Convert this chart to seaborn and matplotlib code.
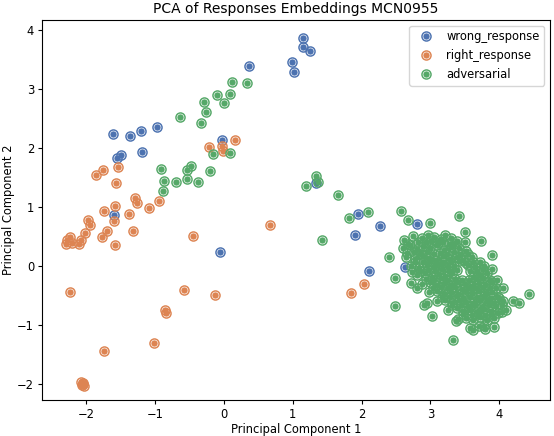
import numpy as np
import pandas as pd
import matplotlib
matplotlib.use("Agg")
import matplotlib.pyplot as plt
import seaborn as sns
from matplotlib.lines import Line2D
from matplotlib.path import Path

# PCA coordinates
wrong_x = [1.15, 1.15, 1.25, 0.99, 1.02, 0.36, -0.03, -1.61, -1.37, -1.21, -0.97,
           -1.55, -1.5, -1.19, -1.6, -0.06, 1.34, 1.95, 1.9, 2.27, 2.11, 2.8, 2.63]
wrong_y = [3.86, 3.71, 3.64, 3.46, 3.29, 3.39, 2.14, 2.24, 2.2, 2.29, 2.36,
           1.83, 1.88, 1.93, 0.86, 0.24, 1.41, 0.88, 0.53, 0.68, -0.08, 0.71, -0.02]

right_x = [-2.05, -2.04, -2.06, -2.03, -2.07, -1.74, -1.02, -0.86, -0.84, -0.58,
           -0.13, -2.24, -0.45, 0.67, 1.85, 2.03, -2.3, -2.28, -2.24, -2.21, -2.08,
           -2.11, -2.02, -1.95, -1.77, -1.69, -1.6, -1.58, -1.32, -1.74, -1.58,
           -1.38, -1.98, -1.85, -1.76, -1.54, -1.57, -1.29, -1.26, -1.09, -0.94,
           -0.22, -0.03, -0.01, 0.16]
right_y = [-1.98, -2.0, -2.02, -2.03, -1.97, -1.45, -1.3, -0.75, -0.79, -0.41,
           -0.49, -0.44, 0.51, 0.69, -0.46, -0.3, 0.37, 0.44, 0.49, 0.39, 0.44,
           0.37, 0.56, 0.69, 0.49, 0.6, 0.76, 0.36, 0.59, 0.93, 1.02,
           0.88, 0.78, 1.54, 1.63, 1.68, 1.41, 1.15, 1.07, 0.98, 1.1,
           2.02, 2.03, 1.95, 2.14]

adv_x = [0.12, 0.33, -0.1, 0.09, -0.29, 0.0, -0.26, -0.64, -0.33, 0.09, -0.16,
         -0.2, -0.47, -0.54, -0.92, -0.87, -0.7, -0.54, -0.38, -0.89,
         1.34, 1.37, 1.19, 1.66, 1.82, 2.09, 1.42, 2.4, 2.57, 2.67, 2.99, 3.42,
         3.5, 3.5, 2.49, 2.91, 2.73, 2.49, 2.72, 2.8, 4.2, 4.29, 4.43, 3.33,
         3.02, 2.95, 3.9, 3.9, 3.97, 4.06, 4.0, 4.04, 3.78, 3.62, 3.37, 3.74,
         2.62, 2.75, 2.88, 2.97, 3.05, 3.15, 3.22, 3.3, 3.38,
         2.6, 2.7, 2.8, 2.9, 3.0, 3.1, 3.2, 3.3, 3.42, 3.52,
         2.65, 2.78, 2.88, 2.98, 3.08, 3.18, 3.28, 3.38, 3.48, 3.6,
         2.72, 2.84, 2.95, 3.05, 3.15, 3.25, 3.35, 3.55, 3.65, 3.78,
         2.8, 2.92, 3.02, 3.12, 3.22, 3.32, 3.62, 3.72, 3.82,
         2.88, 3.0, 3.1, 3.2, 3.3, 3.4, 3.5, 3.6, 3.7, 3.8, 3.9,
         2.98, 3.1, 3.2, 3.3, 3.4, 3.5, 3.6, 3.7, 3.8, 3.9,
         3.1, 3.22, 3.32, 3.42, 3.52, 3.62, 3.72, 3.82, 3.92, 4.05,
         3.25, 3.38, 3.48, 3.58, 3.68, 3.78, 3.88, 3.98, 4.1,
         3.4, 3.52, 3.62, 3.72, 3.82, 3.92,
         3.58, 3.7, 3.8, 3.92,
         # second, offset pass through the dense cluster
         2.68, 2.82, 2.93, 3.01, 3.11, 3.19, 3.27, 3.35,
         2.66, 2.76, 2.86, 2.95, 3.05, 3.14, 3.24, 3.34, 3.45, 3.55,
         2.77, 2.9, 3.0, 3.1, 3.2, 3.3, 3.41, 3.52, 3.62, 3.72,
         2.85, 2.97, 3.07, 3.17, 3.27, 3.38, 3.58, 3.68, 3.76,
         2.94, 3.05, 3.15, 3.25, 3.36, 3.46, 3.56, 3.66, 3.76, 3.86,
         3.04, 3.15, 3.26, 3.36, 3.46, 3.56, 3.66, 3.76, 3.86, 3.96,
         3.17, 3.28, 3.38, 3.48, 3.58, 3.68, 3.78, 3.88, 3.99,
         3.32, 3.44, 3.55, 3.65, 3.75, 3.85, 3.95, 4.04,
         3.48, 3.6, 3.7, 3.8, 3.88]
adv_y = [3.12, 3.1, 2.9, 2.92, 2.78, 2.76, 2.61, 2.53, 2.42, 1.91, 1.9,
         1.61, 1.7, 1.63, 1.64, 1.44, 1.42, 1.47, 1.42, 1.27,
         1.53, 1.42, 1.36, 1.2, 0.81, 0.92, 0.44, 0.15, 0.93, 0.78, 0.73, 0.85,
         0.58, 0.41, -0.68, -0.66, -0.1, -0.2, -0.29, -0.37, -0.6, -0.63, -0.48, -1.25,
         -0.85, -0.62, 0.19, -0.05, -0.24, -0.37, -0.54, -0.78, -1.02, -1.08, -0.93, 0.42,
         0.44, 0.5, 0.47, 0.53, 0.49, 0.45, 0.52, 0.47, 0.42,
         0.3, 0.35, 0.28, 0.33, 0.3, 0.36, 0.27, 0.32, 0.3, 0.25,
         0.15, 0.12, 0.18, 0.14, 0.1, 0.17, 0.12, 0.15, 0.1, 0.16,
         0.0, -0.03, 0.02, -0.02, 0.03, -0.01, 0.0, 0.02, -0.02, 0.0,
         -0.15, -0.12, -0.18, -0.14, -0.17, -0.12, -0.18, -0.15, -0.12,
         -0.3, -0.28, -0.33, -0.29, -0.32, -0.27, -0.31, -0.34, -0.29, -0.32, -0.28,
         -0.45, -0.42, -0.47, -0.44, -0.48, -0.43, -0.46, -0.42, -0.47, -0.44,
         -0.6, -0.58, -0.62, -0.57, -0.61, -0.63, -0.58, -0.6, -0.62, -0.59,
         -0.75, -0.72, -0.77, -0.74, -0.78, -0.73, -0.76, -0.79, -0.74,
         -0.9, -0.88, -0.92, -0.87, -0.91, -0.89,
         -1.05, -1.02, -1.07, -1.03,
         0.38, 0.41, 0.4, 0.43, 0.39, 0.4, 0.37, 0.38,
         0.22, 0.24, 0.21, 0.23, 0.2, 0.22, 0.21, 0.24, 0.2, 0.21,
         0.07, 0.06, 0.08, 0.05, 0.07, 0.06, 0.08, 0.05, 0.07, 0.06,
         -0.08, -0.07, -0.09, -0.06, -0.08, -0.07, -0.09, -0.08, -0.06,
         -0.22, -0.23, -0.21, -0.24, -0.22, -0.23, -0.24, -0.22, -0.21, -0.23,
         -0.37, -0.36, -0.38, -0.35, -0.39, -0.37, -0.38, -0.36, -0.38, -0.37,
         -0.52, -0.53, -0.51, -0.54, -0.52, -0.53, -0.51, -0.54, -0.52,
         -0.67, -0.66, -0.68, -0.67, -0.69, -0.66, -0.68, -0.67,
         -0.82, -0.83, -0.81, -0.84, -0.82]

labels = ["wrong_response", "right_response", "adversarial"]


def ring_marker(r_out=0.72, r_in=0.6):
    # filled disc with a thin see-through ring cut into it
    circ = Path.unit_circle()
    verts = circ.vertices[:-1]
    codes = circ.codes[:-1]
    outer = Path(np.vstack([verts, verts[:1]]), np.append(codes, Path.CLOSEPOLY))
    rev = verts[::-1] * r_out
    hole = Path(np.vstack([rev, rev[:1]]), np.append(codes, Path.CLOSEPOLY))
    inner = Path(np.vstack([verts * r_in, verts[:1] * r_in]), np.append(codes, Path.CLOSEPOLY))
    return Path.make_compound_path(outer, hole, inner)


def build_frame():
    parts = []
    for lab, xs, ys in zip(labels, [wrong_x, right_x, adv_x], [wrong_y, right_y, adv_y]):
        parts.append(pd.DataFrame({"pc1": xs, "pc2": ys, "label": lab}))
    return pd.concat(parts, ignore_index=True)


def plot_pca(df):
    plt.rcParams.update({
        "font.size": 8.3,
        "xtick.major.size": 3.0, "ytick.major.size": 3.0,
        "xtick.major.pad": 2.8, "ytick.major.pad": 2.8,
        "axes.labelpad": 1.5, "axes.titlepad": 5.0,
    })
    palette = dict(zip(labels, sns.color_palette("deep", 3)))
    marker = ring_marker()

    fig, ax = plt.subplots(figsize=(5.54, 4.36), dpi=100)
    fig.subplots_adjust(left=0.076, right=0.993, top=0.954, bottom=0.083)

    for lab in labels:
        sub = df[df["label"] == lab]
        sns.scatterplot(data=sub, x="pc1", y="pc2", color=palette[lab], s=58,
                        marker=marker, linewidth=0, ax=ax, legend=False)

    ax.set_xlim(-2.64, 4.74)
    ax.set_ylim(-2.27, 4.17)
    ax.set_title("PCA of Responses Embeddings MCN0955", fontsize=10)
    ax.set_xlabel("Principal Component 1")
    ax.set_ylabel("Principal Component 2")

    handles = [Line2D([], [], marker=marker, linestyle="", markersize=7.6,
                      markerfacecolor=palette[lab], markeredgewidth=0) for lab in labels]
    ax.legend(handles, labels, loc="upper right")

    fig.savefig("out.png", dpi=100)


def main():
    df = build_frame()
    plot_pca(df)


if __name__ == "__main__":
    main()
